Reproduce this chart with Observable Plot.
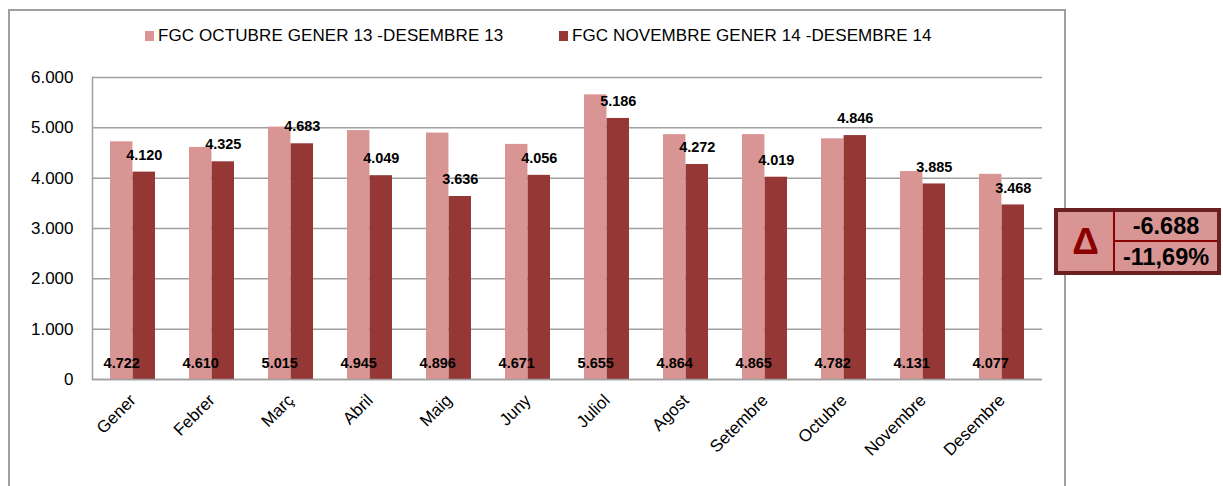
<!DOCTYPE html>
<html>
<head>
<meta charset="utf-8">
<script src="https://cdn.jsdelivr.net/npm/d3@7"></script>
<script src="https://cdn.jsdelivr.net/npm/@observablehq/plot@0.6"></script>
<style>
  html, body { margin: 0; padding: 0; background: #fff; }
  #wrap { position: relative; width: 1223px; height: 486px; overflow: hidden; font-family: "Liberation Sans", Arial, sans-serif; }
  #outer { position: absolute; left: 8px; top: 9px; width: 1058px; height: 500px; border: 2px solid #a0a0a0; box-sizing: border-box; }
  #chart { position: absolute; left: 0; top: 0; }
  .leg { position: absolute; top: 26px; font-size: 17px; letter-spacing: 0.1px; color: #000; white-space: nowrap; line-height: 20px; }
  .sw { display: inline-block; width: 9px; height: 10px; margin-right: 4px; vertical-align: 0px; }
  #delta { position: absolute; left: 1054px; top: 208px; width: 167px; height: 67px; box-sizing: border-box; border: 4px solid #6a2020; background: #d99594; }
  #delta .sym { position: absolute; left: 0; top: 0; width: 55px; height: 59px; border-right: 2px solid #8b0000; display: flex; align-items: center; justify-content: center; font-weight: bold; font-size: 37px; color: #8b0000; }
  #delta .v { position: absolute; left: 57px; width: 102px; height: 30px; display: flex; align-items: center; justify-content: center; font-weight: bold; font-size: 23.5px; color: #000; }
  #delta .v1 { top: 0; border-bottom: 2px solid #8b0000; height: 28px; }
  #delta .v2 { top: 30px; }
</style>
</head>
<body>
<div id="wrap">
  <div id="outer"></div>
  <div id="chart"></div>
  <div class="leg" id="leg1" style="left:145px"></div>
  <div class="leg" id="leg2" style="left:559px"></div>
  <div id="delta"><div class="sym">Δ</div><div class="v v1" id="dabs"></div><div class="v v2" id="dpct"></div></div>
</div>
<script>
const months = ["Gener","Febrer","Març","Abril","Maig","Juny","Juliol","Agost","Setembre","Octubre","Novembre","Desembre"];
const serie13 = [4722,4610,5015,4945,4896,4671,5655,4864,4865,4782,4131,4077];
const serie14 = [4120,4325,4683,4049,3636,4056,5186,4272,4019,4846,3885,3468];
const yTicks = [0,1000,2000,3000,4000,5000,6000];
const seriesNames = ["FGC OCTUBRE GENER 13 -DESEMBRE 13", "FGC NOVEMBRE GENER 14 -DESEMBRE 14"];
const colors = ["#d99594", "#953735"];

const locale = d3.formatLocale({decimal: ",", thousands: ".", grouping: [3], currency: ["", "€"], minus: "-"});
const fmt = locale.format(",d");
const fmtPct = locale.format(",.2f");

const data = months.map((m, i) => ({month: m, a: serie13[i], b: serie14[i]}));

const width = 1223, height = 486;
const pIn = 0.43, pOut = 0.215;
const mL = 92, mR = 181;
const step = (width - mL - mR) / (months.length - pIn + 2 * pOut);
const half = step * (1 - pIn) / 2;

const plot = Plot.plot({
  width, height,
  marginLeft: mL, marginRight: mR, marginTop: 77, marginBottom: 107,
  style: {fontFamily: "'Liberation Sans', Arial, sans-serif", background: "transparent", color: "#000"},
  x: {type: "band", domain: months, paddingInner: pIn, paddingOuter: pOut, label: null},
  y: {domain: [0, 6000], label: null},
  marks: [
    Plot.gridY(yTicks, {stroke: "#a0a0a0", strokeOpacity: 1, strokeWidth: 1.5}),
    Plot.frame({anchor: "left", stroke: "#a0a0a0", strokeWidth: 1.5}),
    Plot.barY(data, {x: "month", y: "a", fill: colors[0], insetRight: half}),
    Plot.barY(data, {x: "month", y: "b", fill: colors[1], insetLeft: half}),
    Plot.ruleY([0], {stroke: "#a0a0a0", strokeWidth: 1.5}),
    Plot.text(data, {x: "month", y: "b", text: d => fmt(d.b), dx: half / 2, dy: -17, fontWeight: "bold", fontSize: 14.5, fill: "#000"}),
    Plot.text(data, {x: "month", y: () => 0, text: d => fmt(d.a), dx: -half / 2, dy: -16, fontWeight: "bold", fontSize: 14.5, fill: "#000"}),
    Plot.axisY({ticks: yTicks, tickSize: 0, tickPadding: 19, fontSize: 17, tickFormat: fmt, label: null}),
    Plot.axisX({tickRotate: -45, tickSize: 0, tickPadding: 18, fontSize: 17, label: null})
  ]
});
document.getElementById("chart").appendChild(plot);

function legend(id, name, color) {
  const el = document.getElementById(id);
  const sw = document.createElement("span");
  sw.className = "sw"; sw.style.background = color;
  el.appendChild(sw);
  el.appendChild(document.createTextNode(name));
}
legend("leg1", seriesNames[0], colors[0]);
legend("leg2", seriesNames[1], colors[1]);

const s13 = d3.sum(serie13), s14 = d3.sum(serie14);
document.getElementById("dabs").textContent = fmt(s14 - s13);
document.getElementById("dpct").textContent = fmtPct((s14 - s13) / s13 * 100) + "%";
</script>
</body>
</html>
